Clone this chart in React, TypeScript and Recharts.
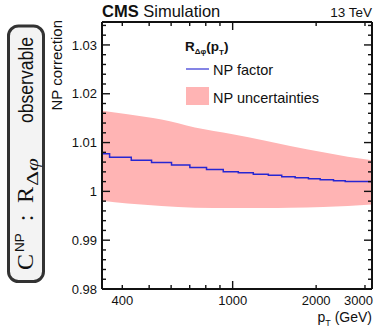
import React from "react";
import { ComposedChart, Area, Line, XAxis, YAxis } from "recharts";

// NP factor histogram: bin edges in pT (GeV) and one value per bin
const binEdges = [338, 360, 431, 510, 602, 701, 805, 925, 1048, 1187, 1345, 1503, 1680, 1876, 2068, 2310, 2546, 3180];
const npFactor = [
  1.0077, 1.007, 1.0064, 1.0059, 1.0054, 1.0049, 1.0045, 1.004, 1.0038,
  1.0035, 1.0033, 1.003, 1.0028, 1.0026, 1.0024, 1.0022, 1.002,
];

// NP uncertainty band (smooth envelope)
const bandPt = [338, 418, 554, 731, 1000, 1300, 1612, 2120, 2600, 3180];
const bandHigh = [1.0165, 1.0158, 1.0147, 1.0131, 1.0117, 1.0104, 1.0093, 1.008, 1.0071, 1.0064];
const bandLow = [0.9981, 0.9975, 0.997, 0.99667, 0.99658, 0.99658, 0.99665, 0.9968, 0.997, 0.9973];

// axes
const xTicks = [400, 500, 600, 700, 800, 900, 1000, 2000, 3000];
const xMajor = [400, 1000, 2000, 3000];
const xMajorLabels = ["400", "1000", "2000", "3000"];
const xDecades = [1000];
const yTicks = [
  0.98, 0.982, 0.984, 0.986, 0.988, 0.99, 0.992, 0.994, 0.996, 0.998, 1,
  1.002, 1.004, 1.006, 1.008, 1.01, 1.012, 1.014, 1.016, 1.018, 1.02,
  1.022, 1.024, 1.026, 1.028, 1.03, 1.032, 1.034,
];
const yMajor = [0.98, 0.99, 1, 1.01, 1.02, 1.03];
const yMajorLabels = ["0.98", "0.99", "1", "1.01", "1.02", "1.03"];

const lineData = binEdges.map((pt, i) => ({
  pt,
  np: npFactor[Math.min(i, npFactor.length - 1)],
}));
const bandData = bandPt.map((pt, i) => ({ pt, band: [bandLow[i], bandHigh[i]] }));

const SANS = "'Liberation Sans', Arial, sans-serif";
const SERIF = "'Liberation Serif', 'Times New Roman', serif";
const INK = "#111";
const BLUE = "#2626d2";
const PINK = "#ffb4b4";

const LeftTick = (props: any) => {
  const { x, y, payload } = props;
  const i = yMajor.indexOf(payload.value);
  return (
    <g>
      <line x1={x} x2={x + (i >= 0 ? 8 : 4)} y1={y} y2={y} stroke={INK} strokeWidth={1.4} />
      {i >= 0 && (
        <text x={x - 5} y={y} dy="0.36em" textAnchor="end" fontSize={13} fontFamily={SANS} fill={INK}>
          {yMajorLabels[i]}
        </text>
      )}
    </g>
  );
};

const RightTick = (props: any) => {
  const { x, y, payload } = props;
  const major = yMajor.indexOf(payload.value) >= 0;
  return <line x1={x} x2={x - (major ? 8 : 4)} y1={y} y2={y} stroke={INK} strokeWidth={1.4} />;
};

const BottomTick = (props: any) => {
  const { x, y, payload } = props;
  const i = xMajor.indexOf(payload.value);
  const long = xDecades.indexOf(payload.value) >= 0;
  const last = i === xMajor.length - 1;
  return (
    <g>
      <line x1={x} x2={x} y1={y} y2={y - (long ? 8 : 4)} stroke={INK} strokeWidth={1.4} />
      {i >= 0 && (
        <text
          x={last ? x + 8 : x}
          y={y + 16}
          textAnchor={last ? "end" : "middle"}
          fontSize={13}
          fontFamily={SANS}
          fill={INK}
        >
          {xMajorLabels[i]}
        </text>
      )}
    </g>
  );
};

const TopTick = (props: any) => {
  const { x, y, payload } = props;
  const long = xDecades.indexOf(payload.value) >= 0;
  return <line x1={x} x2={x} y1={y} y2={y + (long ? 8 : 4)} stroke={INK} strokeWidth={1.4} />;
};

const axisLine = { stroke: INK, strokeWidth: 2 };

export default function App() {
  return (
    <div style={{ position: "absolute", left: 0, top: 0, width: 383, height: 331, background: "#fff" }}>
      <ComposedChart width={383} height={331} margin={{ top: 21, right: 10, bottom: 41, left: 101 }}>
        <Area
          data={bandData}
          xAxisId="b"
          yAxisId="l"
          dataKey="band"
          type="monotone"
          fill={PINK}
          fillOpacity={1}
          stroke="none"
          isAnimationActive={false}
        />
        <Line
          data={lineData}
          xAxisId="b"
          yAxisId="l"
          dataKey="np"
          type="stepAfter"
          stroke={BLUE}
          strokeWidth={1.5}
          dot={false}
          isAnimationActive={false}
        />
        <XAxis
          xAxisId="b"
          dataKey="pt"
          type="number"
          scale="log"
          domain={[338, 3180]}
          allowDataOverflow
          ticks={xTicks}
          tick={BottomTick}
          tickLine={false}
          tickSize={0}
          tickMargin={0}
          axisLine={axisLine}
          height={1}
          interval={0}
        />
        <XAxis
          xAxisId="t"
          orientation="top"
          dataKey="pt"
          type="number"
          scale="log"
          domain={[338, 3180]}
          allowDataOverflow
          ticks={xTicks}
          tick={TopTick}
          tickLine={false}
          tickSize={0}
          tickMargin={0}
          axisLine={axisLine}
          height={1}
          interval={0}
        />
        <YAxis
          yAxisId="l"
          type="number"
          domain={[0.98, 1.0347]}
          allowDataOverflow
          ticks={yTicks}
          tick={LeftTick}
          tickLine={false}
          tickSize={0}
          tickMargin={0}
          axisLine={axisLine}
          width={1}
          interval={0}
        />
        <YAxis
          yAxisId="r"
          orientation="right"
          type="number"
          domain={[0.98, 1.0347]}
          allowDataOverflow
          ticks={yTicks}
          tick={RightTick}
          tickLine={false}
          tickSize={0}
          tickMargin={0}
          axisLine={axisLine}
          width={1}
          interval={0}
        />
      </ComposedChart>

      <svg
        width={383}
        height={331}
        style={{ position: "absolute", left: 0, top: 0, pointerEvents: "none" }}
        fontFamily={SANS}
        fill={INK}
      >
        {/* header */}
        <text x={102} y={17} fontSize={16.5}>
          <tspan fontWeight="bold">CMS</tspan> Simulation
        </text>
        <text x={372} y={17} fontSize={13.5} textAnchor="end">
          13 TeV
        </text>

        {/* axis titles */}
        <text transform="translate(62,20) rotate(-90)" textAnchor="end" fontSize={15}>
          NP correction
        </text>
        <text x={372} y={322} textAnchor="end" fontSize={14}>
          p<tspan fontSize={9} dy={4}>T</tspan>
          <tspan dy={-4}> (GeV)</tspan>
        </text>

        {/* legend */}
        <text x={185} y={51} fontSize={13.5} fontWeight="bold">
          R<tspan fontSize={8} dy={3}>Δφ</tspan>
          <tspan dy={-3}>(p</tspan>
          <tspan fontSize={8} dy={4}>T</tspan>
          <tspan dy={-4}>)</tspan>
        </text>
        <line x1={186} x2={209} y1={69} y2={69} stroke={BLUE} strokeWidth={1.5} opacity={0.75} />
        <text x={213} y={75} fontSize={14.5}>
          NP factor
        </text>
        <rect x={186} y={87} width={23} height={18} fill={PINK} />
        <text x={213} y={103} fontSize={14.5}>
          NP uncertainties
        </text>

        {/* side box */}
        <rect x={8.5} y={26} width={35} height={255.5} rx={10} fill="#f3f3f3" stroke="#333" strokeWidth={3} />
        <g transform="translate(33,270) rotate(-90)">
          <text x={0} y={0} fontFamily={SERIF} fontSize={24}>
            C
          </text>
          <text x={18} y={-9} fontSize={13.5}>
            NP
          </text>
          <text x={48.7} y={0} fontFamily={SERIF} fontSize={24}>
            :
          </text>
          <text x={67} y={0} fontFamily={SERIF} fontSize={24}>
            R
          </text>
          <text x={84} y={5} fontFamily={SERIF} fontSize={16} textLength={28} lengthAdjust="spacingAndGlyphs">
            Δ<tspan fontStyle="italic">φ</tspan>
          </text>
          <text x={147} y={0} fontSize={21} textLength={86} lengthAdjust="spacingAndGlyphs">
            observable
          </text>
        </g>
      </svg>
    </div>
  );
}
